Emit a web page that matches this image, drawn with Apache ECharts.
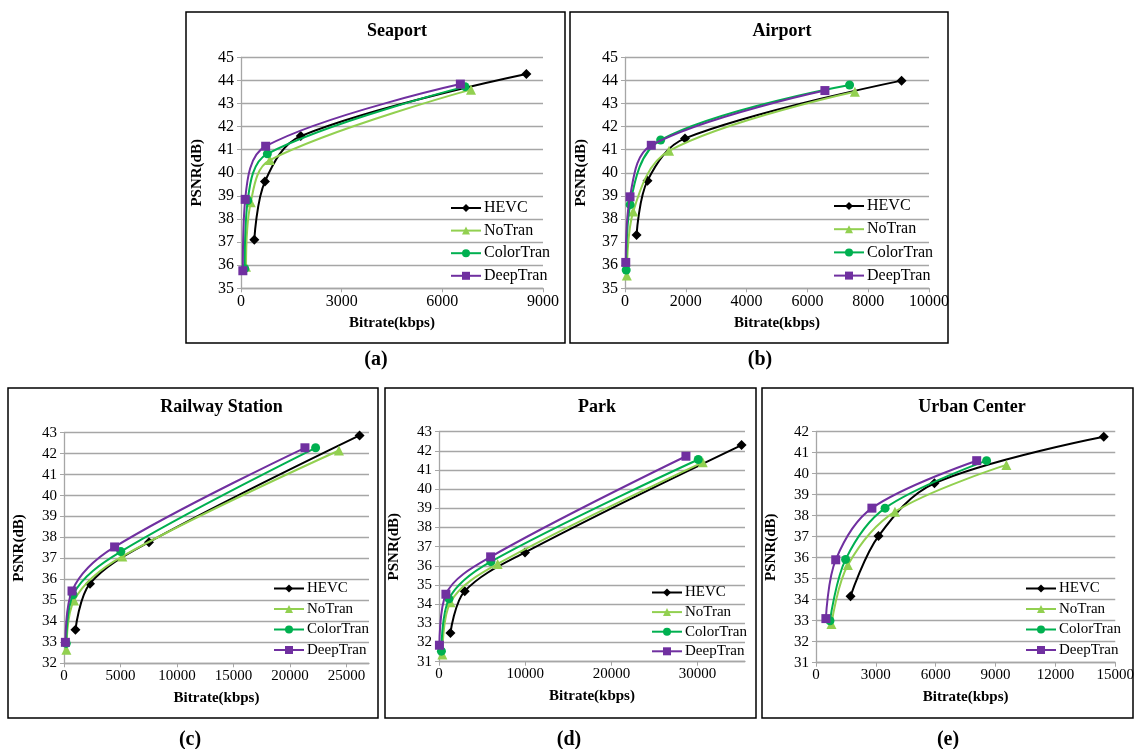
<!DOCTYPE html>
<html>
<head>
<meta charset="utf-8">
<script src="https://cdn.jsdelivr.net/npm/echarts@6/dist/echarts.min.js"></script>
<style>
html,body{margin:0;padding:0;background:#fff;}
#chart{width:1137px;height:749px;}
</style>
</head>
<body>
<div id="chart"></div>
<script>
// ---------- DATA (bitrate kbps, PSNR dB) ----------
const seriesNames = ['HEVC', 'NoTran', 'ColorTran', 'DeepTran'];

const seaportHEVC      = [[396, 37.10], [713, 39.62], [1780, 41.59], [8505, 44.28]];
const seaportNoTran    = [[150, 35.93], [290, 38.72], [860, 40.55], [6854, 43.60]];
const seaportColorTran = [[110, 35.85], [200, 38.80], [785, 40.82], [6676, 43.73]];
const seaportDeepTran  = [[55, 35.76], [125, 38.85], [735, 41.15], [6537, 43.84]];

const airportHEVC      = [[380, 37.31], [740, 39.66], [1973, 41.49], [9097, 43.99]];
const airportNoTran    = [[60, 35.55], [270, 38.32], [1450, 40.95], [7562, 43.51]];
const airportColorTran = [[40, 35.79], [170, 38.62], [1173, 41.42], [7387, 43.80]];
const airportDeepTran  = [[25, 36.12], [165, 38.96], [865, 41.19], [6576, 43.56]];

const railwayHEVC      = [[1011, 33.60], [2300, 35.80], [7522, 37.78], [26167, 42.87]];
const railwayNoTran    = [[213, 32.65], [887, 35.00], [5163, 37.10], [24338, 42.15]];
const railwayColorTran = [[200, 32.95], [800, 35.27], [5030, 37.33], [22273, 42.28]];
const railwayDeepTran  = [[124, 33.00], [710, 35.45], [4480, 37.55], [21329, 42.28]];

const parkHEVC      = [[1326, 32.50], [2990, 34.68], [9974, 36.70], [35103, 42.30]];
const parkNoTran    = [[395, 31.38], [1326, 34.10], [6800, 36.10], [30600, 41.40]];
const parkColorTran = [[280, 31.55], [1163, 34.28], [6017, 36.22], [30077, 41.55]];
const parkDeepTran  = [[50, 31.86], [800, 34.52], [5990, 36.47], [28647, 41.72]];

const urbanHEVC      = [[1731, 34.17], [3132, 37.03], [5938, 39.54], [14423, 41.76]];
const urbanNoTran    = [[775, 32.84], [1599, 35.65], [3956, 38.19], [9543, 40.42]];
const urbanColorTran = [[700, 33.00], [1484, 35.92], [3462, 38.36], [8551, 40.62]];
const urbanDeepTran  = [[495, 33.10], [989, 35.90], [2802, 38.36], [8055, 40.62]];

const panelTitles = ['Seaport', 'Airport', 'Railway Station', 'Park', 'Urban Center'];
const panelLabels = ['(a)', '(b)', '(c)', '(d)', '(e)'];
const xTicks = [[0, 9000, 3000], [0, 10000, 2000], [0, 27000, 5000], [0, 35500, 10000], [0, 15000, 3000]];
const yTicks = [[35, 45, 1], [35, 45, 1], [32, 43, 1], [31, 43, 1], [31, 42, 1]];

const panelData = [
  [seaportHEVC, seaportNoTran, seaportColorTran, seaportDeepTran],
  [airportHEVC, airportNoTran, airportColorTran, airportDeepTran],
  [railwayHEVC, railwayNoTran, railwayColorTran, railwayDeepTran],
  [parkHEVC, parkNoTran, parkColorTran, parkDeepTran],
  [urbanHEVC, urbanNoTran, urbanColorTran, urbanDeepTran]
];

// ---------- STYLE / LAYOUT ----------
const colors  = ['#000000', '#92D050', '#00B050', '#7030A0'];
const symbols = ['diamond', 'triangle', 'circle', 'rect'];
const symSize = [10, 10, 9, 9];
const FONT = '"Liberation Serif", "Times New Roman", serif';

const layout = [
  {box: [186, 12, 379, 331], grid: [241, 57.3, 302, 231], legend: [450, 200], lgGap: 6.6, fs: 16, lfs: 16, yGap: 36, label: [376, 360]},
  {box: [570, 12, 378, 331], grid: [625, 57.3, 304, 231], legend: [833, 198], lgGap: 7.2, fs: 16, lfs: 16, yGap: 36, label: [760, 360]},
  {box: [8, 388, 370, 330], grid: [64, 432.7, 305, 230.6], legend: [273, 581], lgGap: 5.5, fs: 15, lfs: 15, yGap: 37, label: [190, 740]},
  {box: [385, 388, 371, 330], grid: [439, 431.7, 306, 230], legend: [651, 585], lgGap: 4.6, fs: 15, lfs: 15, yGap: 37, label: [569, 740]},
  {box: [762, 388, 371, 330], grid: [816, 431.7, 302, 231], legend: [1025, 581], lgGap: 5.5, fs: 15, lfs: 15, yGap: 37, label: [948, 740]}
];

const option = {
  backgroundColor: '#fff',
  animation: false,
  title: [], grid: [], xAxis: [], yAxis: [], legend: [], series: [], graphic: []
};

layout.forEach((L, i) => {
  const [gx, gy, gw, gh] = L.grid;
  option.grid.push({left: gx, top: gy, width: gw, height: gh});
  option.title.push({
    text: panelTitles[i], left: gx + gw / 2, top: L.box[1] + 5, textAlign: 'center',
    textStyle: {fontFamily: FONT, fontWeight: 'bold', fontSize: 18, color: '#000'}
  });
  option.xAxis.push({
    type: 'value', gridIndex: i, min: xTicks[i][0], max: xTicks[i][1], interval: xTicks[i][2],
    name: 'Bitrate(kbps)', nameLocation: 'middle', nameGap: 27,
    nameTextStyle: {fontFamily: FONT, fontWeight: 'bold', fontSize: 15, color: '#000'},
    axisLine: {show: true, onZero: false, lineStyle: {color: '#a6a6a6', width: 1.3}},
    axisTick: {show: true, length: 4, lineStyle: {color: '#a6a6a6'}},
    axisLabel: {fontFamily: FONT, fontSize: L.fs, color: '#000', margin: 5,
      showMaxLabel: xTicks[i][1] % xTicks[i][2] === 0, formatter: v => String(v)},
    splitLine: {show: false}
  });
  option.yAxis.push({
    type: 'value', gridIndex: i, min: yTicks[i][0], max: yTicks[i][1], interval: yTicks[i][2],
    name: 'PSNR(dB)', nameLocation: 'middle', nameGap: L.yGap,
    nameTextStyle: {fontFamily: FONT, fontWeight: 'bold', fontSize: 15, color: '#000'},
    axisLine: {show: true, lineStyle: {color: '#a6a6a6', width: 1.3}},
    axisTick: {show: true, length: 4, lineStyle: {color: '#a6a6a6'}},
    axisLabel: {fontFamily: FONT, fontSize: L.fs, color: '#000', margin: 7, formatter: v => String(v)},
    splitLine: {show: true, lineStyle: {color: '#a6a6a6', width: 1.3}}
  });
  option.legend.push({
    orient: 'vertical', left: L.legend[0], top: L.legend[1], padding: 0,
    itemWidth: 30, itemHeight: 10, itemGap: L.lgGap,
    data: seriesNames,
    textStyle: {fontFamily: FONT, fontSize: L.lfs, color: '#000', padding: [0, 0, 0, -2]}
  });
  seriesNames.forEach((nm, k) => {
    option.series.push({
      type: 'line', name: nm, xAxisIndex: i, yAxisIndex: i,
      data: panelData[i][k],
      smooth: 0.35,
      symbol: symbols[k], symbolSize: symSize[k],
      itemStyle: {color: colors[k]},
      lineStyle: {color: colors[k], width: 2},
      z: 2 + k
    });
  });
  option.graphic.push({
    type: 'rect', shape: {x: L.box[0], y: L.box[1], width: L.box[2], height: L.box[3]},
    style: {fill: null, stroke: '#000', lineWidth: 1.5}, silent: true
  });
  option.graphic.push({
    type: 'text', x: L.label[0], y: L.label[1],
    style: {text: panelLabels[i], fontFamily: FONT, fontWeight: 'bold', fontSize: 20, fill: '#000', align: 'center', verticalAlign: 'middle'},
    silent: true
  });
});

const chart = echarts.init(document.getElementById('chart'), null, {renderer: 'canvas'});
chart.setOption(option);
</script>
</body>
</html>
